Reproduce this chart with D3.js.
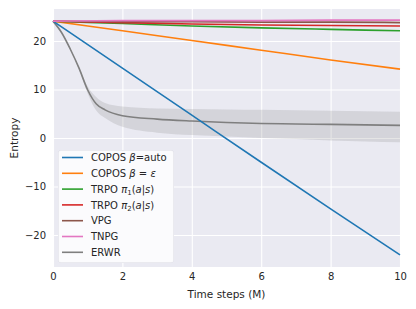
<!DOCTYPE html>
<html>
<head>
<meta charset="utf-8">
<script src="https://cdn.jsdelivr.net/npm/d3@7"></script>
<style>
  body { margin: 0; background: #fff; }
  text { font-family: "DejaVu Sans", sans-serif; fill: #262626; }
</style>
</head>
<body>
<div id="chart"></div>
<script>
var steps = [0, 2, 4, 6, 8, 10];
var coposAuto = [24.1, 14.4, 4.7, -5.0, -14.6, -24.1];
var coposEps = [24.1, 22.1, 20.1, 18.1, 16.1, 14.2];
var trpo1 = [24.1, 23.6, 23.1, 22.7, 22.4, 22.1];
var trpo2 = [24.1, 23.8, 23.5, 23.3, 23.2, 23.1];
var vpg = [24.1, 24.0, 24.0, 23.9, 23.9, 23.8];
var tnpg = [24.1, 24.2, 24.2, 24.2, 24.3, 24.3];

// ERWR drops fast, so it gets a denser grid
var erwrSteps = [0, 0.25, 0.5, 0.75, 1, 1.25, 1.5, 2, 3, 4, 5, 6, 7, 8, 9, 10];
var erwrMean = [24.1, 21.7, 18.3, 14.4, 9.9, 7.0, 5.8, 4.6, 3.9, 3.5, 3.2, 3.0, 2.9, 2.8, 2.7, 2.6];
var erwrHigh = [24.1, 21.8, 18.4, 14.6, 10.6, 8.4, 7.2, 6.5, 6.1, 6.0, 5.9, 5.8, 5.7, 5.6, 5.5, 5.4];
var erwrLow = [24.1, 21.6, 18.2, 14.2, 9.2, 5.6, 4.1, 2.3, 1.1, 0.6, 0.3, 0.0, -0.2, -0.5, -0.7, -0.9];

var xTicks = [0, 2, 4, 6, 8, 10];
var yTicks = [-20, -10, 0, 10, 20];

var legendKeys = ["COPOS β=auto", "COPOS β = ε", "TRPO π1(a|s)", "TRPO π2(a|s)", "VPG", "TNPG", "ERWR"];
var colors = ["#1f77b4", "#ff7f0e", "#2ca02c", "#d62728", "#8c564b", "#e377c2", "#7f7f7f"];

var width = 416;
var height = 309;
var margin = {left: 53, top: 9, right: 16, bottom: 42};

var svg = d3.select("#chart").append("svg")
            .attr("width", width)
            .attr("height", height);

var xScale = d3.scaleLinear().domain([0, 10])
               .range([margin.left, width - margin.right]);
var yScale = d3.scaleLinear().domain([-26.6, 26.6])
               .range([height - margin.bottom, margin.top]);

// Grey plot area with white grid
svg.append("rect")
   .attr("x", margin.left).attr("y", margin.top)
   .attr("width", width - margin.left - margin.right)
   .attr("height", height - margin.top - margin.bottom)
   .attr("fill", "#eaeaf2");

svg.append("g")
   .attr("transform", "translate(0," + (height - margin.bottom) + ")")
   .call(d3.axisBottom(xScale).tickValues(xTicks)
           .tickSize(-(height - margin.top - margin.bottom)).tickPadding(6))
   .call(g => g.select(".domain").remove())
   .call(g => g.selectAll("line").attr("stroke", "#fff").attr("stroke-width", 1.1))
   .call(g => g.selectAll("text").attr("font-size", 10).attr("fill", "#262626"));

svg.append("g")
   .attr("transform", "translate(" + margin.left + ",0)")
   .call(d3.axisLeft(yScale).tickValues(yTicks)
           .tickFormat(d => d < 0 ? "\u2212" + Math.abs(d) : d)
           .tickSize(-(width - margin.left - margin.right)).tickPadding(7))
   .call(g => g.select(".domain").remove())
   .call(g => g.selectAll("line").attr("stroke", "#fff").attr("stroke-width", 1.1))
   .call(g => g.selectAll("text").attr("font-size", 10).attr("fill", "#262626"));

// ERWR spread
svg.append("path")
   .datum(erwrSteps)
   .attr("d", d3.area()
                .x((d) => xScale(d))
                .y0((d, i) => yScale(erwrLow[i]))
                .y1((d, i) => yScale(erwrHigh[i]))
                .curve(d3.curveMonotoneX))
   .attr("fill", colors[6])
   .attr("opacity", 0.2);

var series = [coposAuto, coposEps, trpo1, trpo2, vpg, tnpg];
var line = d3.line().x((d, i) => xScale(steps[i])).y((d) => yScale(d)).curve(d3.curveMonotoneX);

svg.append("path")
   .datum(erwrMean)
   .attr("d", d3.line().x((d, i) => xScale(erwrSteps[i])).y((d) => yScale(d)).curve(d3.curveMonotoneX))
   .attr("fill", "none")
   .attr("stroke", colors[6])
   .attr("stroke-width", 1.6);

// draw in reverse so that TNPG sits on top like in the original
[1, 0, 2, 3, 4, 5].forEach(function(k) {
  svg.append("path")
     .datum(series[k])
     .attr("d", line)
     .attr("fill", "none")
     .attr("stroke", colors[k])
     .attr("stroke-width", 1.6);
});

// Axis labels
svg.append("text")
   .attr("x", (margin.left + width - margin.right) / 2)
   .attr("y", 297.5)
   .attr("text-anchor", "middle")
   .attr("font-size", 10.5)
   .text("Time steps (M)");

svg.append("text")
   .attr("transform", "translate(17.5," + 138 + ") rotate(-90)")
   .attr("text-anchor", "middle")
   .attr("font-size", 10.5)
   .text("Entropy");

// Legend
svg.append("rect").attr("x", 58.5).attr("y", 150.5).attr("rx", 2.5).attr("ry", 2.5)
   .attr("width", 115).attr("height", 112)
   .attr("fill", "#eaeaf2").attr("stroke", "#d8d8e0").attr("stroke-width", 0.8);
svg.append("rect").attr("x", 58.5).attr("y", 150.5).attr("rx", 2.5).attr("ry", 2.5)
   .attr("width", 115).attr("height", 112)
   .attr("fill", "#fff").attr("opacity", 0.8);

var legend = svg.selectAll(".lineLegend").data(legendKeys).enter()
                .append("g").attr("class", "lineLegend")
                .attr("transform", (d, i) => "translate(62," + (157.5 + i * 15.8) + ")");

legend.append("line").attr("x1", 0).attr("x2", 21)
      .attr("stroke", (d, i) => colors[i]).attr("stroke-width", 1.6);

var labels = legend.append("text").attr("x", 29).attr("y", 3.6).attr("font-size", 10);

// rich text for the greek / math parts
labels.each(function(d, i) {
  var t = d3.select(this);
  if (i == 0) {
    t.append("tspan").text("COPOS ");
    t.append("tspan").attr("font-style", "italic").text("β");
    t.append("tspan").text("=auto");
  } else if (i == 1) {
    t.append("tspan").text("COPOS ");
    t.append("tspan").attr("font-style", "italic").text("β");
    t.append("tspan").text(" = ");
    t.append("tspan").attr("font-style", "italic").text("ε");
  } else if (i == 2 || i == 3) {
    t.append("tspan").text("TRPO ");
    t.append("tspan").attr("font-style", "italic").text("π");
    t.append("tspan").attr("font-size", 7).attr("dy", 2).text(i == 2 ? "1" : "2");
    t.append("tspan").attr("dy", -2).text("(");
    t.append("tspan").attr("font-style", "italic").text("a");
    t.append("tspan").text("|");
    t.append("tspan").attr("font-style", "italic").text("s");
    t.append("tspan").text(")");
  } else {
    t.text(d);
  }
});
</script>
</body>
</html>
